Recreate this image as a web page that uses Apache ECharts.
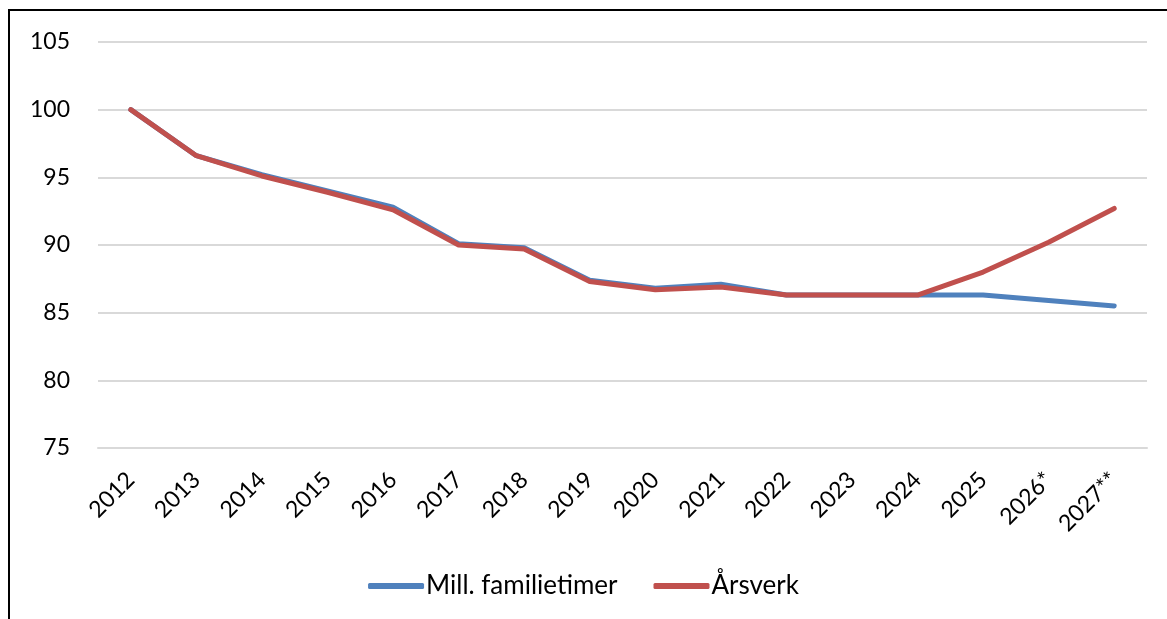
<!DOCTYPE html>
<html>
<head>
<meta charset="utf-8">
<script src="https://cdn.jsdelivr.net/npm/echarts@6/dist/echarts.min.js"></script>
<style>
  html, body { margin: 0; padding: 0; background: #fff; }
  #chart { width: 1167px; height: 619px; }
</style>
</head>
<body>
<div id="chart"></div>
<script>
var years = ['2012', '2013', '2014', '2015', '2016', '2017', '2018', '2019',
  '2020', '2021', '2022', '2023', '2024', '2025', '2026*', '2027**'];
var familietimer = [100, 96.6, 95.2, 94.0, 92.8, 90.1, 89.8, 87.4, 86.8, 87.1, 86.3, 86.3, 86.3, 86.3, 85.9, 85.5];
var arsverk = [100, 96.6, 95.1, 93.9, 92.6, 90.0, 89.7, 87.3, 86.7, 86.9, 86.3, 86.3, 86.3, 88.0, 90.2, 92.7];
var yMin = 75, yMax = 105, yStep = 5;

var font = 'Lato, "Open Sans", sans-serif';
var chart = echarts.init(document.getElementById('chart'));
chart.setOption({
  animation: false,
  textStyle: { fontFamily: font },
  // ramme rundt diagrammet
  graphic: [{
    type: 'rect',
    shape: { x: 9, y: 10, width: 1300, height: 800 },
    style: { fill: 'none', stroke: '#000', lineWidth: 2 }
  }],
  grid: { left: 98, right: 20, top: 42, bottom: 171 },
  legend: {
    top: 568,
    left: 'center',
    icon: 'roundRect',
    itemWidth: 56,
    itemHeight: 6,
    itemGap: 36,
    textStyle: { fontSize: 26, color: '#000', fontFamily: font, padding: [0, 0, 0, -3] },
    data: ['Mill. familietimer', 'Årsverk']
  },
  xAxis: {
    type: 'category',
    data: years,
    boundaryGap: true,
    axisLine: { show: true, lineStyle: { color: '#d9d9d9', width: 2 } },
    axisTick: { show: false },
    axisLabel: { rotate: 45, margin: 28, fontSize: 23, color: '#000', fontFamily: font, interval: 0 }
  },
  yAxis: {
    type: 'value',
    min: yMin,
    max: yMax,
    interval: yStep,
    axisLine: { show: false },
    axisTick: { show: false },
    axisLabel: { margin: 28, fontSize: 23, color: '#000', fontFamily: font },
    splitLine: { lineStyle: { color: '#d9d9d9', width: 2 } }
  },
  series: [
    {
      name: 'Mill. familietimer',
      type: 'line',
      data: familietimer,
      symbol: 'none',
      lineStyle: { color: '#4F81BD', width: 5, cap: 'round', join: 'round' },
      itemStyle: { color: '#4F81BD' }
    },
    {
      name: 'Årsverk',
      type: 'line',
      data: arsverk,
      symbol: 'none',
      lineStyle: { color: '#C0504D', width: 5, cap: 'round', join: 'round' },
      itemStyle: { color: '#C0504D' }
    }
  ]
});
</script>
</body>
</html>
